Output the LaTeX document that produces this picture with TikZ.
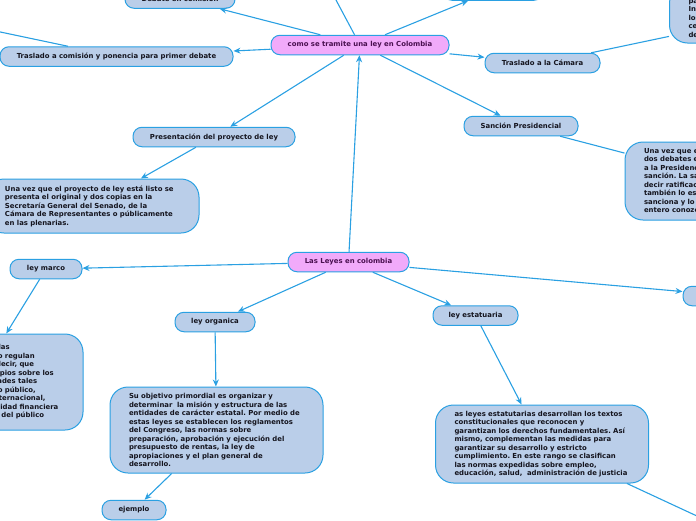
\documentclass[tikz,border=0pt]{standalone}
\usepackage{fontspec}
\setmainfont{DejaVu Sans}
\usepackage{tikz}
\usetikzlibrary{arrows.meta,positioning}
\definecolor{mapblue}{RGB}{186,206,233}
\definecolor{mapline}{RGB}{42,160,226}
\definecolor{mappink}{RGB}{241,170,250}
\definecolor{mapplum}{RGB}{74,16,80}
\definecolor{mapink}{RGB}{20,20,30}
\frenchspacing
\hyphenpenalty=10000
\exhyphenpenalty=10000

\begin{document}
\begin{tikzpicture}[x=1pt, y=-1pt,
  font=\fontsize{6.9}{8.5}\selectfont\bfseries,
  topic/.style={draw=mapline, fill=mapblue, line width=1pt, rounded corners=9pt, minimum height=19.5pt, inner sep=0pt, text=mapink},
  central/.style={topic, fill=mappink, text=mapplum},
  note/.style={draw=mapline, fill=mapblue, line width=1pt, rounded corners=18pt, inner sep=0pt, text width=175pt, minimum width=213pt, align=left, text=mapink},
  link/.style={draw=mapline, line width=1.1pt, -{Stealth[length=7pt,width=6pt]}},
  tie/.style={draw=mapline, line width=1.1pt}]
\useasboundingbox (0,0) rectangle (696,520);

% tramite de una ley
\node[central, minimum width=178pt] (tramite) at (360,45) {como se tramite una ley en Colombia};
\node[topic, minimum width=110pt] (debate) at (180,-1.5) {Debate en comisión};
\node[topic, minimum width=100pt] (arriba) at (493,-9.5) {};
\coordinate (subida) at (320,-30);
\node[topic, minimum width=233pt] (traslado) at (116.5,56.5) {Traslado a comisión y ponencia para primer debate};
\coordinate (salida) at (-40,23.5);
\node[topic, minimum width=115pt] (camara) at (542.5,63) {Traslado a la Cámara};
\node[note, minimum height=58pt] (camaranota) at (776,14) {Aprobado en el Senado, el proyecto\\
pasa a la Cámara de Representantes.\\
Inicia allí el mismo proceso, con\\
los debates en comisión y plenaria\\
celebrados en los términos fijados\\
de la ley.};
\node[topic, minimum width=162pt] (presenta) at (214,137) {Presentación del proyecto de ley};
\node[note, minimum height=54pt] (presentanota) at (92.5,206) {Una vez que el proyecto de ley está listo se\\
presenta el original y dos copias en la\\
Secretaría General del Senado, de la\\
Cámara de Representantes o públicamente\\
en las plenarias.};
\node[topic, minimum width=114pt] (sancion) at (521,126) {Sanción Presidencial};
\node[note, minimum height=78pt] (sancionnota) at (731.5,181) {Una vez que el proyecto ha surtido los\\
dos debates en cada Cámara, pasa\\
a la Presidencia de la República para su\\
sanción. La sanción es la aprobación, es\\
decir ratificación del Presidente, que\\
también lo es del pueblo. El Presidente\\
sanciona y lo promulga para que el país\\
entero conozca la ley.};

% clases de leyes
\node[central, minimum width=121pt] (leyes) at (348.5,262) {Las Leyes en colombia};
\node[topic, minimum width=72pt] (marco) at (46,269) {ley marco};
\node[note, minimum height=96pt, text width=183pt] (marconota) at (-23.5,382) {Son aquellas leyes mediante las\\
cuales el Congreso y Gobierno regulan\\
temas del orden general, es decir, que\\
señalan sus objetivos y principios sobre los\\
cuales se ordenan las actividades tales\\
como la regulación del crédito público,\\
su regulación del comercio internacional,\\
el régimen cambiario, la actividad financiera\\
y la administración de ahorro del público};
\node[topic, minimum width=80pt] (organica) at (215,322) {ley organica};
\node[note, minimum height=86pt] (organicanota) at (216.5,430) {Su objetivo primordial es organizar y\\
determinar \ la misión y estructura de las\\
entidades de carácter estatal. Por medio de\\
estas leyes se establecen los reglamentos\\
del Congreso, las normas sobre\\
preparación, aprobación y ejecución del\\
presupuesto de rentas, la ley de\\
apropiaciones y el plan general de\\
desarrollo.};
\node[topic, minimum width=64pt] (ejemplo) at (134,510) {ejemplo};
\node[topic, minimum width=85pt] (estatuaria) at (475.5,315.5) {ley estatuaria};
\node[note, minimum height=78pt] (estatuarianota) at (542,444) {as leyes estatutarias desarrollan los textos\\
constitucionales que reconocen y\\
garantizan los derechos fundamentales. Así\\
mismo, complementan las medidas para\\
garantizar su desarrollo y estricto\\
cumplimiento. En este rango se clasifican\\
las normas expedidas sobre empleo,\\
educación, salud, \ administración de justicia};
\coordinate (bajada) at (740,536);
\node[topic, minimum width=100pt] (ordinaria) at (733,296) {};

% conectores
\draw[link] (tramite) -- (debate);
\draw[link] (tramite) -- (arriba);
\draw[link] (tramite) -- (subida);
\draw[link] (tramite) -- (traslado);
\draw[tie] (traslado) -- (salida);
\draw[link] (tramite) -- (camara);
\draw[tie] (camara) -- (camaranota);
\draw[link] (tramite) -- (presenta);
\draw[link] (presenta) -- (presentanota);
\draw[link] (tramite) -- (sancion);
\draw[tie] (sancion) -- (sancionnota);
\draw[link] (leyes) -- (tramite);
\draw[link] (leyes) -- (marco);
\draw[link] (marco) -- (marconota);
\draw[link] (leyes) -- (organica);
\draw[link] (organica) -- (organicanota);
\draw[link] (organicanota) -- (ejemplo);
\draw[link] (leyes) -- (estatuaria);
\draw[link] (estatuaria) -- (estatuarianota);
\draw[tie] (estatuarianota) -- (bajada);
\draw[link] (leyes) -- (ordinaria);
\end{tikzpicture}
\end{document}
